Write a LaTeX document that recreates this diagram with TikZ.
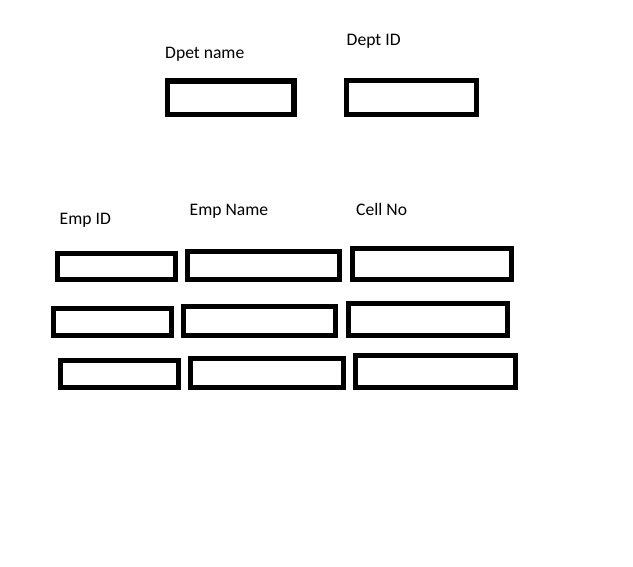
\documentclass[tikz,border=0pt]{standalone}
\usepackage{fontspec}
\setmainfont{Carlito}
\begin{document}
\begin{tikzpicture}[x=1pt,y=-1pt,
  box/.style={draw=black,line width=5.2pt,rectangle,inner sep=0pt,outer sep=0pt},
  lbl/.style={anchor=base west,inner sep=0pt,font=\fontsize{17.6}{20}\selectfont}]
\useasboundingbox[fill=white] (0,0) rectangle (633,567);
% labels
\node[lbl] (tdn) at (165,58.3) {Dpet name};
\node[lbl] (tdi) at (346.5,46) {Dept ID};
\node[lbl] (tei) at (59.5,224.3) {Emp ID};
\node[lbl] (ten) at (189.5,216) {Emp Name};
\node[lbl] (tcn) at (356,216) {Cell No};
% department boxes
\node[box,minimum width=126.5pt,minimum height=33.5pt] (dn) at (230.8,97.7) {};
\node[box,minimum width=130pt,minimum height=34pt] (di) at (411.5,97.5) {};
% employee rows
\node[box,minimum width=117.7pt,minimum height=26.3pt] (a1) at (116.3,266.7) {};
\node[box,minimum width=152pt,minimum height=28pt] (b1) at (263.8,265.8) {};
\node[box,minimum width=159.3pt,minimum height=31.3pt] (c1) at (432.2,264.2) {};
\node[box,minimum width=117.7pt,minimum height=26.7pt] (a2) at (112.3,321.8) {};
\node[box,minimum width=152pt,minimum height=28.4pt] (b2) at (259.8,321) {};
\node[box,minimum width=159.3pt,minimum height=31.7pt] (c2) at (428.2,319.3) {};
\node[box,minimum width=117.4pt,minimum height=27.3pt] (a3) at (119.5,373.8) {};
\node[box,minimum width=152.4pt,minimum height=29pt] (b3) at (267,373) {};
\node[box,minimum width=159.4pt,minimum height=32.3pt] (c3) at (435.5,371.3) {};
\end{tikzpicture}
\end{document}
